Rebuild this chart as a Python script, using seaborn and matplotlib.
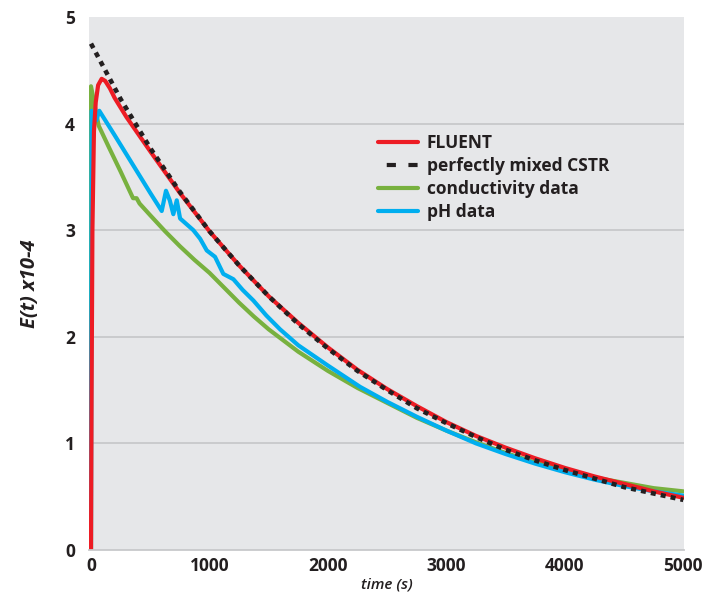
import matplotlib
matplotlib.use("Agg")
import matplotlib.pyplot as plt
from matplotlib.lines import Line2D
import seaborn as sns

# E(t) x10^-4 against time (s)
t_fluent = [0, 5, 12, 25, 40, 60, 90, 120, 160, 200, 300, 400, 500, 750, 1000, 1250, 1500,
            1750, 2000, 2250, 2500, 2750, 3000, 3250, 3500, 3750, 4000, 4250, 4500, 4750, 5000]
e_fluent = [0.0, 1.5, 3.0, 3.93, 4.2, 4.36, 4.42, 4.40, 4.33, 4.24, 4.06, 3.90, 3.74, 3.35, 2.99,
            2.67, 2.38, 2.13, 1.90, 1.69, 1.51, 1.35, 1.20, 1.07, 0.96, 0.86, 0.77, 0.69, 0.62, 0.55, 0.49]

t_cstr = [0, 250, 500, 750, 1000, 1250, 1500, 1750, 2000, 2250, 2500, 2750, 3000, 3250,
          3500, 3750, 4000, 4250, 4500, 4750, 5000]
e_cstr = [4.75, 4.23, 3.77, 3.36, 2.99, 2.67, 2.38, 2.12, 1.89, 1.68, 1.50, 1.33, 1.19, 1.06,
          0.94, 0.84, 0.75, 0.67, 0.59, 0.53, 0.47]

t_cond = [0, 0, 40, 65, 150, 250, 355, 385, 410, 500, 625, 750, 875, 1000, 1125, 1250, 1375,
          1500, 1750, 2000, 2250, 2500, 2750, 3000, 3250, 3500, 3750, 4000, 4250, 4500, 4750, 5000]
e_cond = [0.0, 4.35, 4.12, 3.98, 3.78, 3.55, 3.30, 3.30, 3.25, 3.14, 2.99, 2.85, 2.72, 2.60,
          2.46, 2.32, 2.19, 2.07, 1.86, 1.68, 1.52, 1.38, 1.24, 1.12, 1.01, 0.91, 0.82, 0.75,
          0.68, 0.63, 0.58, 0.55]

t_ph = [0, 5, 45, 70, 200, 300, 400, 500, 597, 633, 665, 695, 724, 752, 864, 921, 977, 1047,
        1117, 1202, 1280, 1371, 1480, 1596, 1750, 2000, 2272, 2500, 2750, 3000, 3250, 3500,
        3750, 4000, 4250, 4500, 4750, 5000]
e_ph = [0.0, 4.12, 4.03, 4.12, 3.89, 3.71, 3.53, 3.35, 3.18, 3.37, 3.28, 3.15, 3.28, 3.11,
        3.00, 2.92, 2.81, 2.75, 2.59, 2.54, 2.44, 2.34, 2.20, 2.07, 1.92, 1.73, 1.53, 1.39,
        1.25, 1.12, 1.00, 0.90, 0.81, 0.73, 0.66, 0.60, 0.55, 0.51]

labels = ["FLUENT", "perfectly mixed CSTR", "conductivity data", "pH data"]
x_ticks = [0, 1000, 2000, 3000, 4000, 5000]
y_ticks = [0, 1, 2, 3, 4, 5]

red = "#ed1c24"
black = "#231f20"
green = "#78b13f"
blue = "#00aeef"
txt = "#231f20"

sns.set_style("white", {"axes.facecolor": "#e6e7e9"})
plt.rcParams["font.family"] = ["Open Sans", "DejaVu Sans"]

fig = plt.figure(figsize=(7.04, 5.94), dpi=100)
ax = fig.add_axes([0.1264, 0.0741, 0.8452, 0.8973])

for y in y_ticks[1:-1]:
    ax.axhline(y, color="#c8c9cb", lw=1.3, zorder=0)

sns.lineplot(x=t_cond, y=e_cond, ax=ax, color=green, lw=3, estimator=None, sort=False)
sns.lineplot(x=t_ph, y=e_ph, ax=ax, color=blue, lw=3, estimator=None, sort=False)
sns.lineplot(x=t_fluent, y=e_fluent, ax=ax, color=red, lw=3, estimator=None, sort=False)
sns.lineplot(x=t_cstr, y=e_cstr, ax=ax, color=black, lw=3.3, estimator=None, sort=False,
             linestyle=(0, (1.1, 1.1)))

ax.set_xlim(-17, 5006)
ax.set_ylim(0, 5)
ax.set_xticks(x_ticks)
ax.set_yticks(y_ticks)
ax.set_xticklabels([str(v) for v in x_ticks], fontsize=12.5, fontweight="bold", color=txt)
ax.set_yticklabels([str(v) for v in y_ticks], fontsize=12.5, fontweight="bold", color=txt)
ax.tick_params(axis="x", length=0, pad=5)
ax.tick_params(axis="y", length=0, pad=10)

for s in ["top", "right", "left"]:
    ax.spines[s].set_visible(False)
ax.spines["bottom"].set_color("#c8c9cb")
ax.spines["bottom"].set_linewidth(1.3)

ax.set_xlabel("time (s)", fontsize=11, fontstyle="italic", fontweight="semibold", color=txt, labelpad=2)
ax.set_ylabel("E(t) x10-4", fontsize=14.5, fontstyle="italic", fontweight="bold",
              color=txt, labelpad=18)

handles = [
    Line2D([], [], color=red, lw=3),
    Line2D([], [], color=black, lw=3, linestyle=(3.1, (2.2, 3.0))),
    Line2D([], [], color=green, lw=3),
    Line2D([], [], color=blue, lw=3),
]
leg = ax.legend(handles, labels, loc="upper left", bbox_to_anchor=(0.4857, 0.78),
                frameon=False, borderpad=0, borderaxespad=0, handlelength=2.3,
                handletextpad=0.5, labelspacing=0.28,
                prop={"size": 12.5, "weight": "bold"})
for t in leg.get_texts():
    t.set_color(txt)

fig.savefig("out.png", dpi=100)
